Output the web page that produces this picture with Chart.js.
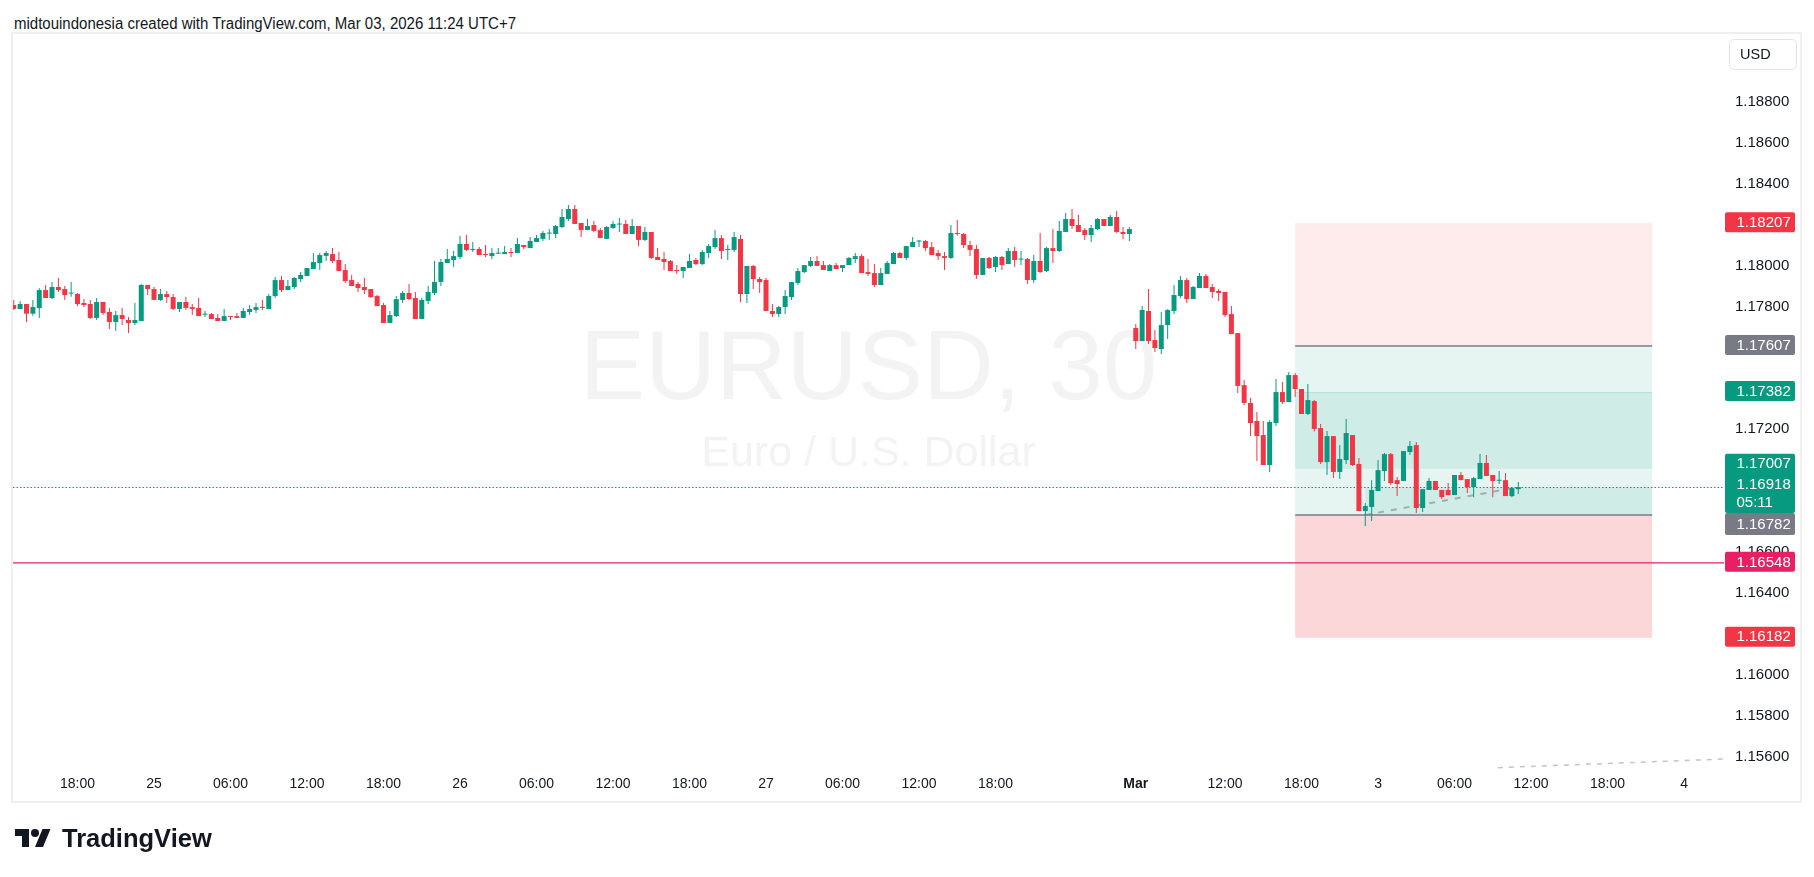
<!DOCTYPE html>
<html>
<head>
<meta charset="utf-8">
<title>EURUSD, 30</title>
<script src="https://cdn.jsdelivr.net/npm/chart.js@4"></script>
<style>
  html, body { margin: 0; padding: 0; background: #fff; }
  body { width: 1814px; height: 877px; position: relative; overflow: hidden;
         font-family: "Liberation Sans", Arial, sans-serif; color: #131722; }
  #head { position: absolute; left: 14px; top: 16px; font-size: 16px; line-height: 16px;
          white-space: nowrap; transform-origin: 0 0; }
  #frame { position: absolute; left: 11px; top: 32px; width: 1791px; height: 771px;
           box-sizing: border-box; border: 2px solid #efefef; }
  #chart { position: absolute; left: 0; top: 0; }
  #logoIcon { position: absolute; left: 15px; top: 825px; }
  #logoText { position: absolute; left: 62px; top: 826px; font-size: 25.5px; line-height: 25px;
              font-weight: bold; color: #131722; }
</style>
</head>
<body>
<div id="head">midtouindonesia created with TradingView.com, Mar 03, 2026 11:24 UTC+7</div>
<div id="frame"></div>
<canvas id="chart" width="1814" height="877"></canvas>
<svg id="logoIcon" width="36" height="28" viewBox="0 0 36 28"><path fill="#131722" d="M14 22H7V11H0V4h14v18zM28 22h-8l7.5-18h8L28 22z"/><circle fill="#131722" cx="20" cy="8" r="4"/></svg>
<div id="logoText">TradingView</div>
<script>
// 30 minute candles, index 0 = Feb 24 18:00 (UTC+7), weekend gap removed
var firstIndex = -10;

var opens = [
  1.17807, 1.17788, 1.17812, 1.17765, 1.17792, 1.17880, 1.17841, 1.17895, 1.17885, 1.17863,
  1.17861, 1.17817, 1.17812, 1.17744, 1.17822, 1.17773, 1.17724, 1.17758, 1.17734, 1.17719,
  1.17729, 1.17905, 1.17885, 1.17832, 1.17861, 1.17846, 1.17788, 1.17822, 1.17797, 1.17793,
  1.17760, 1.17763, 1.17744, 1.17729, 1.17753, 1.17753, 1.17744, 1.17773, 1.17783, 1.17797,
  1.17788, 1.17851, 1.17929, 1.17880, 1.17895, 1.17934, 1.17949, 1.17983, 1.18012, 1.18047,
  1.18056, 1.18027, 1.17978, 1.17929, 1.17910, 1.17895, 1.17885, 1.17851, 1.17807, 1.17719,
  1.17753, 1.17832, 1.17866, 1.17841, 1.17739, 1.17827, 1.17866, 1.17920, 1.18012, 1.18027,
  1.18042, 1.18105, 1.18076, 1.18081, 1.18056, 1.18046, 1.18058, 1.18056, 1.18066, 1.18061,
  1.18100, 1.18085, 1.18115, 1.18130, 1.18156, 1.18154, 1.18188, 1.18227, 1.18276, 1.18208,
  1.18173, 1.18198, 1.18173, 1.18130, 1.18183, 1.18200, 1.18203, 1.18154, 1.18193, 1.18125,
  1.18164, 1.18042, 1.18032, 1.18022, 1.17978, 1.17973, 1.17988, 1.18027, 1.18007, 1.18061,
  1.18090, 1.18134, 1.18076, 1.18076, 1.18130, 1.17861, 1.17998, 1.17934, 1.17929, 1.17778,
  1.17763, 1.17797, 1.17846, 1.17915, 1.17968, 1.17998, 1.18022, 1.18002, 1.17973, 1.18002,
  1.17988, 1.18002, 1.18032, 1.18046, 1.17968, 1.17963, 1.17905, 1.17959, 1.18007, 1.18061,
  1.18037, 1.18090, 1.18117, 1.18120, 1.18090, 1.18061, 1.18046, 1.18037, 1.18159, 1.18154,
  1.18100, 1.18081, 1.17954, 1.18037, 1.17993, 1.18042, 1.18007, 1.18071, 1.18029, 1.18032,
  1.17929, 1.18022, 1.17973, 1.18085, 1.18071, 1.18164, 1.18227, 1.18198, 1.18173, 1.18149,
  1.18178, 1.18227, 1.18193, 1.18237, 1.18164, 1.18154, 1.17695, 1.17631, 1.17778, 1.17636,
  1.17592, 1.17709, 1.17778, 1.17851, 1.17929, 1.17836, 1.17890, 1.17949, 1.17895, 1.17876,
  1.17871, 1.17763, 1.17670, 1.17416, 1.17329, 1.17241, 1.17172, 1.17026, 1.17231, 1.17382,
  1.17333, 1.17465, 1.17397, 1.17275, 1.17338, 1.17206, 1.17040, 1.17167, 1.16992, 1.17050,
  1.17172, 1.17031, 1.16801, 1.16821, 1.16899, 1.16996, 1.17079, 1.16952, 1.16948, 1.17089,
  1.17123, 1.16816, 1.16904, 1.16948, 1.16904, 1.16904, 1.16879, 1.16977, 1.16957, 1.16918,
  1.16957, 1.17036, 1.16977, 1.16949, 1.16952, 1.16874, 1.16908
];

var highs = [
  1.17832, 1.17827, 1.17812, 1.17832, 1.17889, 1.17905, 1.17920, 1.17939, 1.17900, 1.17920,
  1.17866, 1.17836, 1.17832, 1.17841, 1.17822, 1.17793, 1.17778, 1.17793, 1.17749, 1.17817,
  1.17910, 1.17905, 1.17895, 1.17885, 1.17876, 1.17861, 1.17822, 1.17846, 1.17812, 1.17841,
  1.17778, 1.17768, 1.17763, 1.17788, 1.17753, 1.17768, 1.17793, 1.17807, 1.17817, 1.17832,
  1.17861, 1.17944, 1.17949, 1.17929, 1.17944, 1.17968, 1.17988, 1.18061, 1.18061, 1.18071,
  1.18086, 1.18066, 1.18007, 1.17954, 1.17920, 1.17939, 1.17885, 1.17856, 1.17817, 1.17778,
  1.17851, 1.17876, 1.17910, 1.17871, 1.17841, 1.17900, 1.18022, 1.18032, 1.18081, 1.18071,
  1.18145, 1.18149, 1.18115, 1.18090, 1.18100, 1.18085, 1.18085, 1.18095, 1.18085, 1.18134,
  1.18100, 1.18139, 1.18149, 1.18169, 1.18178, 1.18198, 1.18276, 1.18296, 1.18296, 1.18208,
  1.18227, 1.18218, 1.18183, 1.18193, 1.18218, 1.18232, 1.18222, 1.18227, 1.18193, 1.18188,
  1.18164, 1.18085, 1.18066, 1.18027, 1.18002, 1.17993, 1.18056, 1.18037, 1.18076, 1.18105,
  1.18173, 1.18149, 1.18100, 1.18164, 1.18149, 1.17998, 1.18002, 1.17944, 1.17939, 1.17812,
  1.17802, 1.17880, 1.17919, 1.17988, 1.18002, 1.18042, 1.18046, 1.18022, 1.18007, 1.18012,
  1.18002, 1.18042, 1.18061, 1.18056, 1.18032, 1.18007, 1.17988, 1.18022, 1.18066, 1.18066,
  1.18095, 1.18139, 1.18125, 1.18125, 1.18115, 1.18076, 1.18066, 1.18198, 1.18222, 1.18159,
  1.18120, 1.18100, 1.18037, 1.18042, 1.18046, 1.18046, 1.18085, 1.18090, 1.18071, 1.18037,
  1.18051, 1.18159, 1.18090, 1.18178, 1.18218, 1.18256, 1.18276, 1.18247, 1.18183, 1.18198,
  1.18232, 1.18227, 1.18247, 1.18266, 1.18188, 1.18188, 1.17714, 1.17802, 1.17885, 1.17685,
  1.17773, 1.17787, 1.17905, 1.17949, 1.17939, 1.17900, 1.17963, 1.17959, 1.17910, 1.17885,
  1.17871, 1.17802, 1.17670, 1.17441, 1.17353, 1.17285, 1.17241, 1.17245, 1.17446, 1.17431,
  1.17480, 1.17475, 1.17397, 1.17421, 1.17343, 1.17226, 1.17192, 1.17167, 1.17123, 1.17250,
  1.17172, 1.17060, 1.16840, 1.16952, 1.17050, 1.17084, 1.17084, 1.16967, 1.17094, 1.17143,
  1.17138, 1.16908, 1.16962, 1.16948, 1.16904, 1.16938, 1.16977, 1.16992, 1.16957, 1.16967,
  1.17079, 1.17075, 1.16977, 1.16996, 1.16987, 1.16918, 1.16943
];

var lows = [
  1.17783, 1.17788, 1.17724, 1.17755, 1.17744, 1.17841, 1.17836, 1.17871, 1.17832, 1.17848,
  1.17802, 1.17797, 1.17739, 1.17734, 1.17758, 1.17690, 1.17680, 1.17710, 1.17670, 1.17710,
  1.17729, 1.17856, 1.17832, 1.17827, 1.17817, 1.17783, 1.17773, 1.17783, 1.17758, 1.17753,
  1.17749, 1.17739, 1.17729, 1.17729, 1.17734, 1.17744, 1.17744, 1.17758, 1.17768, 1.17783,
  1.17788, 1.17841, 1.17871, 1.17880, 1.17885, 1.17920, 1.17949, 1.17983, 1.17978, 1.18022,
  1.18012, 1.17973, 1.17915, 1.17900, 1.17871, 1.17861, 1.17841, 1.17802, 1.17719, 1.17719,
  1.17749, 1.17817, 1.17832, 1.17739, 1.17739, 1.17812, 1.17856, 1.17900, 1.18012, 1.17993,
  1.18032, 1.18071, 1.18066, 1.18051, 1.18042, 1.18032, 1.18056, 1.18056, 1.18042, 1.18061,
  1.18081, 1.18085, 1.18115, 1.18120, 1.18125, 1.18134, 1.18183, 1.18218, 1.18203, 1.18139,
  1.18173, 1.18164, 1.18134, 1.18130, 1.18178, 1.18164, 1.18154, 1.18154, 1.18095, 1.18120,
  1.18032, 1.18027, 1.17978, 1.17973, 1.17959, 1.17939, 1.17988, 1.18002, 1.18002, 1.18037,
  1.18081, 1.18032, 1.18027, 1.18066, 1.17822, 1.17817, 1.17885, 1.17866, 1.17778, 1.17749,
  1.17749, 1.17763, 1.17832, 1.17905, 1.17963, 1.17993, 1.17998, 1.17978, 1.17973, 1.17983,
  1.17968, 1.18002, 1.18012, 1.17963, 1.17949, 1.17895, 1.17905, 1.17959, 1.18007, 1.18037,
  1.18027, 1.18090, 1.18090, 1.18071, 1.18051, 1.18027, 1.17978, 1.18032, 1.18145, 1.18085,
  1.18046, 1.17934, 1.17954, 1.17983, 1.17968, 1.17978, 1.18007, 1.17993, 1.18002, 1.17910,
  1.17915, 1.17963, 1.17968, 1.18012, 1.18066, 1.18164, 1.18178, 1.18164, 1.18125, 1.18115,
  1.18173, 1.18193, 1.18193, 1.18159, 1.18130, 1.18120, 1.17592, 1.17631, 1.17617, 1.17578,
  1.17568, 1.17641, 1.17763, 1.17841, 1.17817, 1.17836, 1.17890, 1.17890, 1.17841, 1.17827,
  1.17749, 1.17665, 1.17377, 1.17319, 1.17167, 1.17045, 1.17026, 1.16992, 1.17216, 1.17324,
  1.17333, 1.17358, 1.17275, 1.17270, 1.17190, 1.17031, 1.16977, 1.16962, 1.16957, 1.17031,
  1.17021, 1.16801, 1.16728, 1.16752, 1.16899, 1.16948, 1.16928, 1.16874, 1.16948, 1.17075,
  1.16791, 1.16796, 1.16904, 1.16904, 1.16860, 1.16879, 1.16879, 1.16952, 1.16889, 1.16869,
  1.16957, 1.16972, 1.16869, 1.16933, 1.16874, 1.16869, 1.16884
];

var closes = [
  1.17788, 1.17812, 1.17765, 1.17797, 1.17880, 1.17841, 1.17895, 1.17880, 1.17856, 1.17866,
  1.17812, 1.17807, 1.17744, 1.17822, 1.17768, 1.17724, 1.17758, 1.17739, 1.17719, 1.17734,
  1.17905, 1.17885, 1.17832, 1.17861, 1.17846, 1.17788, 1.17822, 1.17793, 1.17788, 1.17753,
  1.17763, 1.17739, 1.17729, 1.17753, 1.17749, 1.17744, 1.17778, 1.17788, 1.17797, 1.17793,
  1.17851, 1.17929, 1.17880, 1.17900, 1.17939, 1.17954, 1.17988, 1.18017, 1.18051, 1.18061,
  1.18022, 1.17973, 1.17924, 1.17900, 1.17890, 1.17880, 1.17846, 1.17802, 1.17719, 1.17758,
  1.17836, 1.17866, 1.17836, 1.17739, 1.17832, 1.17871, 1.17920, 1.18017, 1.18032, 1.18046,
  1.18105, 1.18076, 1.18081, 1.18051, 1.18051, 1.18061, 1.18061, 1.18066, 1.18061, 1.18105,
  1.18090, 1.18120, 1.18134, 1.18159, 1.18159, 1.18193, 1.18237, 1.18276, 1.18203, 1.18173,
  1.18193, 1.18169, 1.18134, 1.18188, 1.18203, 1.18203, 1.18154, 1.18193, 1.18125, 1.18164,
  1.18037, 1.18027, 1.18017, 1.17973, 1.17973, 1.17993, 1.18022, 1.18007, 1.18066, 1.18095,
  1.18134, 1.18071, 1.18081, 1.18139, 1.17861, 1.17998, 1.17934, 1.17919, 1.17778, 1.17763,
  1.17797, 1.17851, 1.17919, 1.17973, 1.18002, 1.18022, 1.17998, 1.17978, 1.18002, 1.17983,
  1.18002, 1.18037, 1.18046, 1.17963, 1.17959, 1.17905, 1.17963, 1.18012, 1.18061, 1.18037,
  1.18095, 1.18115, 1.18120, 1.18085, 1.18051, 1.18046, 1.18037, 1.18159, 1.18154, 1.18100,
  1.18076, 1.17954, 1.18037, 1.17988, 1.18042, 1.18002, 1.18071, 1.18027, 1.18032, 1.17929,
  1.18022, 1.17968, 1.18085, 1.18071, 1.18169, 1.18227, 1.18193, 1.18164, 1.18149, 1.18183,
  1.18227, 1.18193, 1.18237, 1.18164, 1.18154, 1.18178, 1.17631, 1.17783, 1.17631, 1.17597,
  1.17709, 1.17783, 1.17856, 1.17929, 1.17836, 1.17895, 1.17949, 1.17890, 1.17871, 1.17866,
  1.17758, 1.17665, 1.17412, 1.17329, 1.17231, 1.17167, 1.17026, 1.17236, 1.17382, 1.17333,
  1.17465, 1.17397, 1.17275, 1.17343, 1.17202, 1.17040, 1.17167, 1.16992, 1.17055, 1.17182,
  1.17026, 1.16801, 1.16826, 1.16904, 1.17001, 1.17079, 1.16938, 1.16933, 1.17094, 1.17119,
  1.16816, 1.16908, 1.16948, 1.16904, 1.16869, 1.16879, 1.16977, 1.16952, 1.16918, 1.16962,
  1.17036, 1.16972, 1.16948, 1.16952, 1.16874, 1.16913, 1.16918
];

var timeTicks = [0, 12, 24, 36, 48, 60, 72, 84, 96, 108, 120, 132, 144, 166, 180, 192, 204, 216, 228, 240, 252];
var timeLabels = ['18:00', '25', '06:00', '12:00', '18:00', '26', '06:00', '12:00', '18:00', '27',
                  '06:00', '12:00', '18:00', 'Mar', '12:00', '18:00', '3', '06:00', '12:00', '18:00', '4'];
var priceTicks = [1.156, 1.158, 1.160, 1.162, 1.164, 1.166, 1.168, 1.170, 1.172, 1.174,
                  1.176, 1.178, 1.180, 1.182, 1.184, 1.186, 1.188];

// drawings on the chart
var shortEntry = 1.17607, shortStop = 1.18207, shortTarget = 1.17007;
var longEntry = 1.16782, longStop = 1.16182, longTarget = 1.17382;
var toolStart = 191, toolEnd = 247, longHitAt = 202;
var alertLevel = 1.16548;
var countdown = '05:11';
var ghostLine = [[222.8, 1.15548], [258.3, 1.15590]];

var upColor = '#089981', downColor = '#f23645';
var lastIndex = firstIndex + closes.length - 1;
var lastClose = closes[closes.length - 1];

Chart.defaults.font.family = '"Liberation Sans", Arial, sans-serif';

var wickData = [], bodyData = [], colors = [];
for (var k = 0; k < opens.length; k++) {
    wickData.push({ x: firstIndex + k, y: [lows[k], highs[k]] });
    bodyData.push({ x: firstIndex + k, y: [opens[k], closes[k]] });
    colors.push(closes[k] >= opens[k] ? upColor : downColor);
}

function rrect(ctx, x, y, w, h, r) {
    ctx.beginPath();
    ctx.moveTo(x + r, y);
    ctx.lineTo(x + w - r, y);
    ctx.quadraticCurveTo(x + w, y, x + w, y + r);
    ctx.lineTo(x + w, y + h - r);
    ctx.quadraticCurveTo(x + w, y + h, x + w - r, y + h);
    ctx.lineTo(x + r, y + h);
    ctx.quadraticCurveTo(x, y + h, x, y + h - r);
    ctx.lineTo(x, y + r);
    ctx.quadraticCurveTo(x, y, x + r, y);
    ctx.closePath();
}

var overlay = {
    id: 'overlay',
    beforeDatasetsDraw: function (chart) {
        var ctx = chart.ctx, a = chart.chartArea, xs = chart.scales.x, ys = chart.scales.y;
        var X = function (v) { return xs.getPixelForValue(v); };
        var Y = function (v) { return ys.getPixelForValue(v); };
        ctx.save();
        ctx.beginPath();
        ctx.rect(a.left, a.top, a.right - a.left, a.bottom - a.top);
        ctx.clip();

        // watermark
        var cx = (a.left + a.right) / 2, cy = (a.top + a.bottom) / 2;
        ctx.fillStyle = '#f3f3f4';
        ctx.textAlign = 'center';
        ctx.textBaseline = 'alphabetic';
        ctx.font = '98px "Liberation Sans", Arial, sans-serif';
        ctx.fillText('EURUSD, 30', cx, cy - 4);
        ctx.font = '43px "Liberation Sans", Arial, sans-serif';
        ctx.fillText('Euro / U.S. Dollar', cx, cy + 63);

        function band(i0, i1, p0, p1, color) {
            var y0 = Y(p0), y1 = Y(p1);
            ctx.fillStyle = color;
            ctx.fillRect(X(i0), Math.min(y0, y1), X(i1) - X(i0), Math.abs(y1 - y0));
        }
        // short position
        band(toolStart, toolEnd, shortEntry, shortStop, 'rgba(242,54,69,0.1)');
        band(toolStart, toolEnd, shortTarget, shortEntry, 'rgba(8,153,129,0.1)');
        // long position
        band(toolStart, toolEnd, longStop, longEntry, 'rgba(242,54,69,0.2)');
        band(toolStart, toolEnd, longEntry, longTarget, 'rgba(8,153,129,0.1)');
        band(longHitAt, toolEnd, longEntry, lastClose, 'rgba(8,153,129,0.1)');

        ctx.strokeStyle = 'rgba(8,153,129,0.12)';
        ctx.lineWidth = 1;
        ctx.beginPath();
        ctx.moveTo(X(toolStart), Math.round(Y(longTarget)) + 0.5);
        ctx.lineTo(X(toolEnd), Math.round(Y(longTarget)) + 0.5);
        ctx.stroke();

        ctx.strokeStyle = '#787b86';
        ctx.lineWidth = 1.5;
        [shortEntry, longEntry].forEach(function (p) {
            ctx.beginPath();
            ctx.moveTo(X(toolStart), Y(p));
            ctx.lineTo(X(toolEnd), Y(p));
            ctx.stroke();
        });

        // path from entry to current price
        ctx.strokeStyle = 'rgba(120,123,134,0.55)';
        ctx.lineWidth = 2;
        ctx.setLineDash([6, 7]);
        ctx.beginPath();
        ctx.moveTo(X(longHitAt), Y(longEntry));
        ctx.lineTo(X(lastIndex), Y(lastClose));
        ctx.stroke();

        ctx.strokeStyle = 'rgba(178,181,190,0.8)';
        ctx.lineWidth = 1.5;
        ctx.setLineDash([5, 6]);
        ctx.beginPath();
        ctx.moveTo(X(ghostLine[0][0]), Y(ghostLine[0][1]));
        ctx.lineTo(X(ghostLine[1][0]), Y(ghostLine[1][1]));
        ctx.stroke();
        ctx.setLineDash([]);

        // alert line
        ctx.strokeStyle = '#e91e63';
        ctx.lineWidth = 1.2;
        ctx.beginPath();
        ctx.moveTo(a.left, Y(alertLevel));
        ctx.lineTo(a.right, Y(alertLevel));
        ctx.stroke();
        ctx.restore();
    },
    afterDatasetsDraw: function (chart) {
        var ctx = chart.ctx, a = chart.chartArea, ys = chart.scales.y;
        var y = Math.round(ys.getPixelForValue(lastClose)) + 0.5;
        ctx.save();
        ctx.strokeStyle = upColor;
        ctx.lineWidth = 1;
        ctx.setLineDash([1.5, 2]);
        ctx.beginPath();
        ctx.moveTo(a.left, y);
        ctx.lineTo(a.right, y);
        ctx.stroke();
        ctx.restore();
    },
    afterDraw: function (chart) {
        var ctx = chart.ctx, a = chart.chartArea, ys = chart.scales.y;
        var Y = function (v) { return ys.getPixelForValue(v); };
        var bx = a.right + 1, bw = 70, tx = a.right + 12.5;
        ctx.save();
        ctx.font = '15px "Liberation Sans", Arial, sans-serif';
        ctx.textBaseline = 'middle';
        ctx.textAlign = 'left';

        function tag(top, bottom, color, texts) {
            ctx.fillStyle = color;
            rrect(ctx, bx, top, bw, bottom - top, 2);
            ctx.fill();
            ctx.fillStyle = '#ffffff';
            texts.forEach(function (t) { ctx.fillText(t[0], tx, t[1]); });
        }
        function levelTag(v, color) {
            var c = Y(v) - 1;
            tag(c - 10, c + 10, color, [[v.toFixed(5), c + 0.5]]);
        }
        levelTag(shortStop, downColor);
        levelTag(shortEntry, '#787b86');
        levelTag(longTarget, upColor);
        levelTag(alertLevel, '#e91e63');
        levelTag(longStop, downColor);

        var yT = Y(shortTarget), yC = Y(lastClose);
        tag(yT - 15, yC + 26, upColor, [[shortTarget.toFixed(5), yT - 5],
                                        [lastClose.toFixed(5), yC - 2],
                                        [countdown, yC + 16]]);
        tag(yC + 26, yC + 48, '#787b86', [[longEntry.toFixed(5), yC + 37.5]]);

        // currency button
        ctx.fillStyle = '#ffffff';
        ctx.strokeStyle = '#e0e3eb';
        ctx.lineWidth = 1;
        rrect(ctx, a.right + 5.5, 39.5, 67, 30, 5);
        ctx.fill();
        ctx.stroke();
        ctx.fillStyle = '#131722';
        ctx.font = '14.5px "Liberation Sans", Arial, sans-serif';
        ctx.fillText('USD', a.right + 16, 55);
        ctx.restore();
    }
};

var ctx = document.getElementById('chart');
var myChart = new Chart(ctx, {
    type: 'bar',
    data: {
        datasets: [
            {
                label: 'Wick',
                data: wickData,
                backgroundColor: colors,
                barThickness: 1,
                grouped: false,
                inflateAmount: 0,
                order: 2
            }, {
                label: 'Body',
                data: bodyData,
                backgroundColor: colors,
                barThickness: 5,
                minBarLength: 1,
                grouped: false,
                inflateAmount: 0,
                order: 1
            }
        ]
    },
    options: {
        responsive: false,
        animation: false,
        layout: { padding: { left: 13, top: 34, right: 14, bottom: 75 } },
        plugins: { legend: { display: false }, tooltip: { enabled: false } },
        scales: {
            x: {
                type: 'linear',
                min: -10.12,
                max: 258.27,
                offset: false,
                grid: { display: false, drawTicks: false },
                border: { display: false },
                afterBuildTicks: function (s) {
                    s.ticks = timeTicks.map(function (v) { return { value: v }; });
                },
                afterFit: function (s) { s.height = 30; },
                ticks: {
                    autoSkip: false,
                    maxRotation: 0,
                    padding: 4,
                    color: '#131722',
                    font: function (c) {
                        return { size: 14, weight: timeLabels[c.index] === 'Mar' ? 'bold' : 'normal' };
                    },
                    callback: function (v, i) { return timeLabels[i]; }
                }
            },
            y: {
                position: 'right',
                min: 1.155267,
                max: 1.191306,
                grid: { display: false, drawTicks: false },
                border: { display: false },
                afterBuildTicks: function (s) {
                    s.ticks = priceTicks.map(function (v) { return { value: v }; });
                },
                afterFit: function (s) { s.width = 76; },
                ticks: {
                    crossAlign: 'near',
                    padding: 11,
                    color: '#131722',
                    font: { size: 15 },
                    callback: function (v) { return v.toFixed(5); }
                }
            }
        }
    },
    plugins: [overlay]
});

// squeeze the header line to the width it has in the snapshot
var head = document.getElementById('head');
head.style.transform = 'scaleX(' + (502 / head.getBoundingClientRect().width) + ')';
</script>
</body>
</html>
